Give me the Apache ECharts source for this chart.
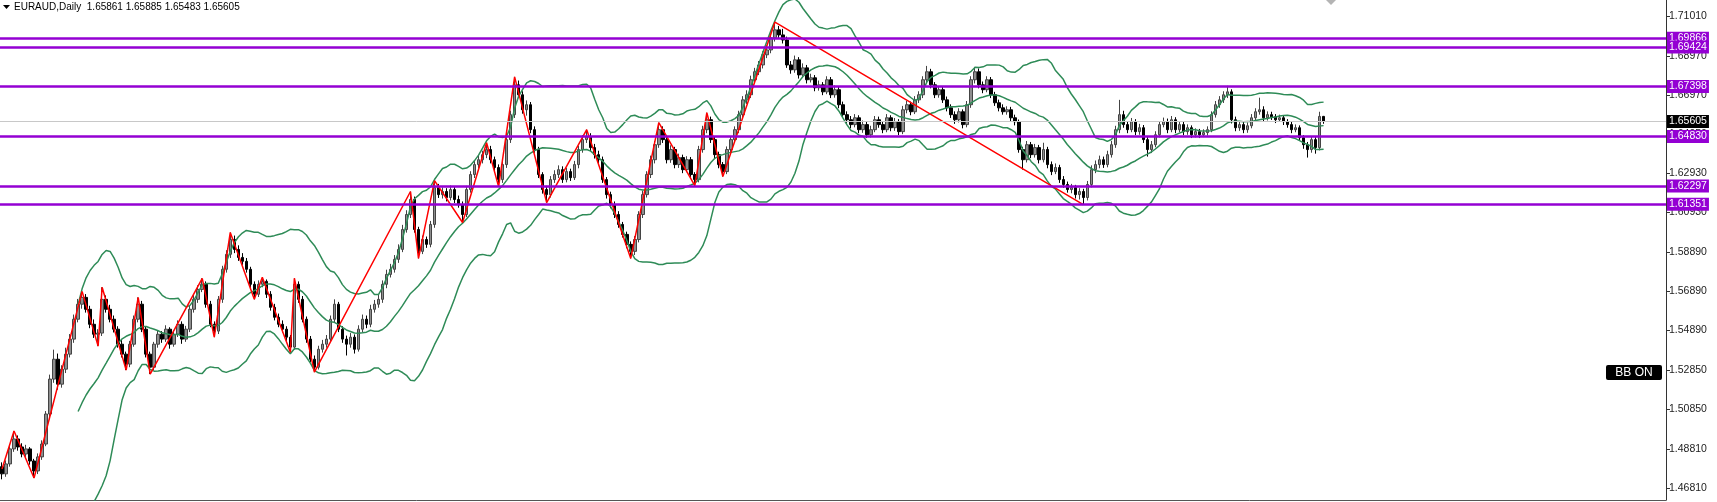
<!DOCTYPE html>
<html><head><meta charset="utf-8">
<script src="https://cdn.jsdelivr.net/npm/echarts@6/dist/echarts.min.js"></script>
<style>html,body{margin:0;padding:0;background:#fff}#c{width:1717px;height:502px}</style>
</head><body><div id="c"></div>
<script>
const opens=[
1.4790,1.4753,1.4804,1.4881,1.4932,1.4891,1.4855,1.4881,1.4819,1.4768,
1.4840,1.4906,1.5060,1.5239,1.5341,1.5213,1.5290,1.5367,1.5444,1.5546,
1.5623,1.5658,1.5597,1.5520,1.5469,1.5475,1.5648,1.5597,1.5546,1.5495,
1.5418,1.5367,1.5316,1.5418,1.5546,1.5623,1.5495,1.5367,1.5300,1.5418,
1.5469,1.5444,1.5495,1.5418,1.5469,1.5520,1.5444,1.5495,1.5597,1.5648,
1.5699,1.5725,1.5623,1.5520,1.5485,1.5648,1.5802,1.5879,1.5955,1.5904,
1.5863,1.5843,1.5802,1.5725,1.5674,1.5725,1.5740,1.5674,1.5607,1.5556,
1.5520,1.5495,1.5454,1.5403,1.5725,1.5648,1.5546,1.5444,1.5341,1.5300,
1.5392,1.5418,1.5444,1.5546,1.5623,1.5495,1.5444,1.5418,1.5454,1.5392,
1.5495,1.5546,1.5520,1.5597,1.5623,1.5648,1.5725,1.5776,1.5802,1.5853,
1.5904,1.6006,1.6083,1.6160,1.6006,1.5894,1.5955,1.5930,1.6032,1.6221,
1.6185,1.6201,1.6170,1.6211,1.6160,1.6134,1.6083,1.6211,1.6288,1.6339,
1.6364,1.6390,1.6416,1.6364,1.6324,1.6262,1.6339,1.6467,1.6595,1.6748,
1.6697,1.6620,1.6646,1.6518,1.6416,1.6288,1.6211,1.6185,1.6262,1.6288,
1.6313,1.6262,1.6303,1.6272,1.6339,1.6416,1.6467,1.6482,1.6426,1.6390,
1.6364,1.6262,1.6185,1.6134,1.6083,1.6032,1.5981,1.5930,1.5894,1.5955,
1.6083,1.6185,1.6288,1.6364,1.6441,1.6518,1.6467,1.6364,1.6416,1.6339,
1.6375,1.6313,1.6364,1.6288,1.6262,1.6416,1.6518,1.6569,1.6467,1.6390,
1.6339,1.6303,1.6416,1.6467,1.6518,1.6595,1.6671,1.6697,1.6774,1.6815,
1.6850,1.6902,1.6927,1.6989,1.7030,1.7004,1.6978,1.6850,1.6825,1.6876,
1.6799,1.6835,1.6774,1.6784,1.6733,1.6748,1.6712,1.6774,1.6697,1.6723,
1.6646,1.6595,1.6569,1.6544,1.6579,1.6518,1.6544,1.6492,1.6518,1.6569,
1.6544,1.6518,1.6579,1.6528,1.6559,1.6508,1.6620,1.6646,1.6610,1.6671,
1.6697,1.6774,1.6815,1.6748,1.6697,1.6723,1.6671,1.6630,1.6595,1.6569,
1.6610,1.6544,1.6646,1.6774,1.6815,1.6748,1.6723,1.6774,1.6697,1.6656,
1.6630,1.6610,1.6620,1.6579,1.6559,1.6416,1.6364,1.6441,1.6390,1.6426,
1.6364,1.6416,1.6339,1.6303,1.6324,1.6262,1.6237,1.6211,1.6221,1.6185,
1.6201,1.6170,1.6237,1.6313,1.6339,1.6364,1.6339,1.6390,1.6441,1.6518,
1.6595,1.6544,1.6518,1.6559,1.6508,1.6528,1.6467,1.6416,1.6441,1.6492,
1.6544,1.6559,1.6518,1.6569,1.6518,1.6544,1.6508,1.6528,1.6492,1.6508,
1.6492,1.6503,1.6518,1.6595,1.6646,1.6671,1.6697,1.6712,1.6569,1.6528,
1.6544,1.6518,1.6538,1.6579,1.6610,1.6620,1.6579,1.6595,1.6584,1.6569,
1.6579,1.6559,1.6544,1.6518,1.6528,1.6477,1.6441,1.6416,1.6467,1.6426,1.65861];
const highs=[
1.4812,1.4822,1.4895,1.4973,1.4950,1.4910,1.4902,1.4890,1.4830,1.4858,
1.4925,1.5075,1.5262,1.5390,1.5370,1.5310,1.5400,1.5470,1.5570,1.5650,
1.5689,1.5675,1.5615,1.5545,1.5495,1.5710,1.5668,1.5620,1.5565,1.5510,
1.5440,1.5380,1.5435,1.5565,1.5658,1.5640,1.5510,1.5380,1.5430,1.5490,
1.5485,1.5515,1.5505,1.5488,1.5540,1.5535,1.5512,1.5615,1.5670,1.5720,
1.5756,1.5740,1.5640,1.5535,1.5665,1.5820,1.5900,1.5991,1.5975,1.5925,
1.5885,1.5860,1.5815,1.5740,1.5745,1.5761,1.5750,1.5690,1.5625,1.5575,
1.5540,1.5510,1.5465,1.5756,1.5740,1.5665,1.5560,1.5460,1.5360,1.5410,
1.5440,1.5465,1.5565,1.5648,1.5635,1.5510,1.5462,1.5475,1.5468,1.5515,
1.5570,1.5565,1.5620,1.5645,1.5672,1.5745,1.5800,1.5830,1.5875,1.5930,
1.6030,1.6105,1.6201,1.6175,1.6020,1.5975,1.5970,1.6050,1.6257,1.6240,
1.6222,1.6218,1.6232,1.6226,1.6180,1.6150,1.6230,1.6305,1.6360,1.6385,
1.6410,1.6451,1.6435,1.6380,1.6340,1.6355,1.6485,1.6615,1.6789,1.6770,
1.6715,1.6668,1.6660,1.6535,1.6430,1.6300,1.6230,1.6280,1.6310,1.6335,
1.6330,1.6322,1.6318,1.6358,1.6435,1.6490,1.6518,1.6500,1.6445,1.6410,
1.6380,1.6275,1.6200,1.6150,1.6100,1.6045,1.5995,1.5945,1.5972,1.6100,
1.6205,1.6305,1.6385,1.6460,1.6554,1.6535,1.6482,1.6438,1.6430,1.6395,
1.6390,1.6382,1.6378,1.6300,1.6435,1.6538,1.6605,1.6585,1.6482,1.6405,
1.6352,1.6432,1.6485,1.6535,1.6615,1.6690,1.6720,1.6795,1.6835,1.6870,
1.6920,1.6950,1.7010,1.7070,1.7050,1.7035,1.6995,1.6870,1.6898,1.6890,
1.6858,1.6850,1.6805,1.6798,1.6770,1.6762,1.6792,1.6788,1.6745,1.6738,
1.6662,1.6612,1.6588,1.6598,1.6592,1.6565,1.6558,1.6538,1.6588,1.6585,
1.6560,1.6598,1.6592,1.6578,1.6572,1.6640,1.6665,1.6662,1.6690,1.6715,
1.6792,1.6845,1.6830,1.6762,1.6742,1.6738,1.6688,1.6648,1.6612,1.6628,
1.6622,1.6665,1.6792,1.6840,1.6832,1.6765,1.6792,1.6788,1.6712,1.6672,
1.6648,1.6638,1.6635,1.6595,1.6570,1.6430,1.6460,1.6455,1.6445,1.6440,
1.6451,1.6430,1.6355,1.6345,1.6338,1.6280,1.6252,1.6240,1.6235,1.6218,
1.6215,1.6255,1.6335,1.6360,1.6385,1.6380,1.6410,1.6460,1.6538,1.6671,
1.6615,1.6560,1.6578,1.6572,1.6548,1.6542,1.6480,1.6460,1.6510,1.6562,
1.6580,1.6575,1.6588,1.6582,1.6562,1.6558,1.6545,1.6540,1.6525,1.6522,
1.6520,1.6535,1.6612,1.6665,1.6690,1.6715,1.6743,1.6725,1.6585,1.6562,
1.6558,1.6555,1.6598,1.6628,1.6682,1.6638,1.6612,1.6610,1.6598,1.6595,
1.6592,1.6572,1.6558,1.6545,1.6540,1.6490,1.6455,1.6485,1.6480,1.6610,1.65885];
const lows=[
1.4725,1.4738,1.4790,1.4866,1.4872,1.4838,1.4840,1.4800,1.4732,1.4752,
1.4825,1.4895,1.5045,1.5220,1.5185,1.5195,1.5270,1.5350,1.5425,1.5530,
1.5600,1.5580,1.5500,1.5450,1.5408,1.5460,1.5580,1.5530,1.5478,1.5400,
1.5350,1.5285,1.5300,1.5405,1.5530,1.5480,1.5350,1.5265,1.5285,1.5400,
1.5425,1.5430,1.5395,1.5405,1.5455,1.5420,1.5430,1.5480,1.5580,1.5630,
1.5685,1.5605,1.5505,1.5454,1.5470,1.5630,1.5785,1.5860,1.5885,1.5845,
1.5825,1.5785,1.5705,1.5648,1.5660,1.5710,1.5655,1.5590,1.5540,1.5505,
1.5478,1.5435,1.5377,1.5390,1.5630,1.5530,1.5425,1.5325,1.5275,1.5288,
1.5375,1.5400,1.5430,1.5530,1.5480,1.5425,1.5360,1.5400,1.5370,1.5380,
1.5480,1.5500,1.5505,1.5580,1.5605,1.5630,1.5705,1.5760,1.5785,1.5835,
1.5890,1.5990,1.6065,1.5990,1.5858,1.5880,1.5912,1.5915,1.6015,1.6168,
1.6165,1.6150,1.6155,1.6142,1.6118,1.6042,1.6070,1.6195,1.6270,1.6320,
1.6345,1.6372,1.6345,1.6305,1.6226,1.6245,1.6322,1.6450,1.6578,1.6680,
1.6600,1.6590,1.6500,1.6400,1.6270,1.6190,1.6144,1.6170,1.6245,1.6270,
1.6245,1.6248,1.6255,1.6260,1.6320,1.6400,1.6450,1.6408,1.6370,1.6345,
1.6245,1.6165,1.6115,1.6065,1.6015,1.5965,1.5910,1.5858,1.5875,1.5940,
1.6065,1.6170,1.6270,1.6345,1.6425,1.6450,1.6345,1.6348,1.6320,1.6322,
1.6295,1.6300,1.6270,1.6231,1.6248,1.6400,1.6500,1.6450,1.6372,1.6320,
1.6278,1.6290,1.6400,1.6450,1.6500,1.6580,1.6650,1.6680,1.6755,1.6798,
1.6832,1.6885,1.6910,1.6970,1.6985,1.6960,1.6835,1.6805,1.6810,1.6780,
1.6785,1.6755,1.6760,1.6715,1.6718,1.6695,1.6700,1.6680,1.6682,1.6628,
1.6578,1.6550,1.6525,1.6530,1.6500,1.6502,1.6475,1.6478,1.6505,1.6528,
1.6500,1.6505,1.6510,1.6512,1.6490,1.6495,1.6602,1.6592,1.6598,1.6655,
1.6680,1.6760,1.6730,1.6680,1.6682,1.6655,1.6612,1.6578,1.6548,1.6555,
1.6525,1.6530,1.6630,1.6755,1.6730,1.6705,1.6710,1.6680,1.6640,1.6612,
1.6595,1.6595,1.6562,1.6540,1.6400,1.6313,1.6350,1.6372,1.6375,1.6345,
1.6350,1.6320,1.6285,1.6290,1.6245,1.6220,1.6195,1.6192,1.6165,1.6160,
1.6134,1.6155,1.6222,1.6295,1.6320,1.6322,1.6325,1.6375,1.6425,1.6500,
1.6528,1.6500,1.6505,1.6490,1.6492,1.6450,1.6380,1.6398,1.6428,1.6478,
1.6530,1.6500,1.6505,1.6500,1.6505,1.6490,1.6492,1.6475,1.6478,1.6475,
1.6480,1.6488,1.6505,1.6580,1.6630,1.6655,1.6680,1.6550,1.6510,1.6512,
1.6500,1.6502,1.6525,1.6565,1.6595,1.6562,1.6565,1.6568,1.6552,1.6558,
1.6542,1.6528,1.6500,1.6505,1.6460,1.6420,1.6375,1.6400,1.6395,1.6412,1.65483];
const closes=[
1.4753,1.4804,1.4881,1.4932,1.4891,1.4855,1.4881,1.4819,1.4768,1.4840,
1.4906,1.5060,1.5239,1.5341,1.5213,1.5290,1.5367,1.5444,1.5546,1.5623,
1.5658,1.5597,1.5520,1.5469,1.5475,1.5648,1.5597,1.5546,1.5495,1.5418,
1.5367,1.5316,1.5418,1.5546,1.5623,1.5495,1.5367,1.5300,1.5418,1.5469,
1.5444,1.5495,1.5418,1.5469,1.5520,1.5444,1.5495,1.5597,1.5648,1.5699,
1.5725,1.5623,1.5520,1.5485,1.5648,1.5802,1.5879,1.5955,1.5904,1.5863,
1.5843,1.5802,1.5725,1.5674,1.5725,1.5740,1.5674,1.5607,1.5556,1.5520,
1.5495,1.5454,1.5403,1.5725,1.5648,1.5546,1.5444,1.5341,1.5300,1.5392,
1.5418,1.5444,1.5546,1.5623,1.5495,1.5444,1.5418,1.5454,1.5392,1.5495,
1.5546,1.5520,1.5597,1.5623,1.5648,1.5725,1.5776,1.5802,1.5853,1.5904,
1.6006,1.6083,1.6160,1.6006,1.5894,1.5955,1.5930,1.6032,1.6221,1.6185,
1.6201,1.6170,1.6211,1.6160,1.6134,1.6083,1.6211,1.6288,1.6339,1.6364,
1.6390,1.6416,1.6364,1.6324,1.6262,1.6339,1.6467,1.6595,1.6748,1.6697,
1.6620,1.6646,1.6518,1.6416,1.6288,1.6211,1.6185,1.6262,1.6288,1.6313,
1.6262,1.6303,1.6272,1.6339,1.6416,1.6467,1.6482,1.6426,1.6390,1.6364,
1.6262,1.6185,1.6134,1.6083,1.6032,1.5981,1.5930,1.5894,1.5955,1.6083,
1.6185,1.6288,1.6364,1.6441,1.6518,1.6467,1.6364,1.6416,1.6339,1.6375,
1.6313,1.6364,1.6288,1.6262,1.6416,1.6518,1.6569,1.6467,1.6390,1.6339,
1.6303,1.6416,1.6467,1.6518,1.6595,1.6671,1.6697,1.6774,1.6815,1.6850,
1.6902,1.6927,1.6989,1.7030,1.7004,1.6978,1.6850,1.6825,1.6876,1.6799,
1.6835,1.6774,1.6784,1.6733,1.6748,1.6712,1.6774,1.6697,1.6723,1.6646,
1.6595,1.6569,1.6544,1.6579,1.6518,1.6544,1.6492,1.6518,1.6569,1.6544,
1.6518,1.6579,1.6528,1.6559,1.6508,1.6620,1.6646,1.6610,1.6671,1.6697,
1.6774,1.6815,1.6748,1.6697,1.6723,1.6671,1.6630,1.6595,1.6569,1.6610,
1.6544,1.6646,1.6774,1.6815,1.6748,1.6723,1.6774,1.6697,1.6656,1.6630,
1.6610,1.6620,1.6579,1.6559,1.6416,1.6364,1.6441,1.6390,1.6426,1.6364,
1.6416,1.6339,1.6303,1.6324,1.6262,1.6237,1.6211,1.6221,1.6185,1.6201,
1.6170,1.6237,1.6313,1.6339,1.6364,1.6339,1.6390,1.6441,1.6518,1.6595,
1.6544,1.6518,1.6559,1.6508,1.6528,1.6467,1.6416,1.6441,1.6492,1.6544,
1.6559,1.6518,1.6569,1.6518,1.6544,1.6508,1.6528,1.6492,1.6508,1.6492,
1.6503,1.6518,1.6595,1.6646,1.6671,1.6697,1.6712,1.6569,1.6528,1.6544,
1.6518,1.6538,1.6579,1.6610,1.6620,1.6579,1.6595,1.6584,1.6569,1.6579,
1.6559,1.6544,1.6518,1.6528,1.6477,1.6441,1.6416,1.6467,1.6426,1.6586,1.65605];

// ZigZag turning points (bar index, price)
const zzIdx=[0,3,8,20,24,25,31,34,37,50,53,57,63,65,72,73,78,102,104,108,115,121,124,128,136,146,157,164,173,176,180,193,270];
const zzVal=[1.4778,1.4973,1.4732,1.5689,1.5408,1.5710,1.5285,1.5658,1.5265,1.5756,1.5454,1.5991,1.5648,1.5761,1.5377,1.5756,1.5275,1.6201,1.5858,1.6257,1.6042,1.6451,1.6226,1.6789,1.6144,1.6518,1.5858,1.6554,1.6231,1.6605,1.6278,1.7070,1.6134];

const levels=[1.69866,1.69424,1.67398,1.64830,1.62297,1.61351];
const lastPrice=1.65605;
const yTicks=[1.46810,1.48810,1.50850,1.52850,1.54890,1.56890,1.58890,1.60930,1.62930,1.64950,1.66970,1.68970,1.71010];
const headerText='EURAUD,Daily  1.65861 1.65885 1.65483 1.65605';
const badgeText='BB ON';

const SLOTS=416;
const cats=Array.from({length:SLOTS},(_,i)=>String(i));
const candles=opens.map((o,i)=>[o,closes[i],lows[i],highs[i]]);

// Bollinger Bands (20, 2) from the closes
const P=20,D=2;
const bbMid=[],bbUp=[],bbLo=[];
for(let i=0;i<closes.length;i++){
  if(i<P-1){bbMid.push('-');bbUp.push('-');bbLo.push('-');continue;}
  let s=0;for(let k=i-P+1;k<=i;k++)s+=closes[k];
  const m=s/P;let v=0;for(let k=i-P+1;k<=i;k++)v+=(closes[k]-m)*(closes[k]-m);
  const sd=Math.sqrt(v/P);
  bbMid.push(m);bbUp.push(m+D*sd);bbLo.push(m-D*sd);
}

const FONT='Liberation Sans';
const bandStyle={color:'#2E8B57',width:1.5};
function bandSeries(d){return {type:'line',data:d,symbol:'none',lineStyle:bandStyle,z:3,silent:true,animation:false};}

const lvlLabel=(bg)=>({show:true,position:'end',distance:1,formatter:p=>Number(p.value).toFixed(5),color:'#fff',backgroundColor:bg,fontSize:10.5,fontFamily:FONT,padding:[1,2,0,2],lineHeight:12});

const chart=echarts.init(document.getElementById('c'),null,{renderer:'canvas'});
chart.setOption({
  animation:false,
  backgroundColor:'#fff',
  grid:{left:0,right:51,top:0,bottom:2},
  xAxis:{type:'category',data:cats,boundaryGap:true,
    axisLine:{show:true,lineStyle:{color:'#555',width:1}},axisTick:{show:false},axisLabel:{show:false},splitLine:{show:false}},
  yAxis:{type:'value',position:'right',min:1.4619,max:1.7183,scale:true,splitLine:{show:false},
    axisLine:{show:true,lineStyle:{color:'#333',width:1}},
    axisTick:{show:true,length:4,customValues:yTicks,lineStyle:{color:'#333'}},
    axisLabel:{customValues:yTicks,formatter:v=>v.toFixed(5),color:'#222',fontSize:10.5,fontFamily:FONT,margin:3}},
  series:[
    {type:'candlestick',data:candles,barWidth:3,z:2,
      itemStyle:{color:'#8e8e8e',color0:'#000',borderColor:'#444',borderColor0:'#000',borderWidth:1},
      markLine:{symbol:'none',silent:true,animation:false,precision:5,
        data:levels.map(v=>({yAxis:v,lineStyle:{color:'#9400D3',width:2.5,type:'solid'},label:lvlLabel('#9400D3')}))
          .concat([{yAxis:lastPrice,lineStyle:{color:'#c8c8c8',width:1,type:'solid'},label:lvlLabel('#000')}])}},
    bandSeries(bbUp),bandSeries(bbMid),bandSeries(bbLo),
    {type:'line',data:zzIdx.map((x,i)=>[x,zzVal[i]]),symbol:'none',lineStyle:{color:'#ff0000',width:1.5},z:4,silent:true}
  ],
  graphic:[
    {type:'polygon',shape:{points:[[3,5],[10,5],[6.5,9]]},style:{fill:'#000'}},
    {type:'text',x:14,y:7,style:{text:headerText,fill:'#000',font:'10px "Liberation Sans"',textVerticalAlign:'middle'}},
    {type:'polygon',shape:{points:[[1326,0],[1336,0],[1331,5]]},style:{fill:'#b4b4b4'}},
    {type:'rect',shape:{x:1606,y:365,width:56,height:15,r:2},style:{fill:'#000'}},
    {type:'text',x:1634,y:373,style:{text:badgeText,fill:'#fff',font:'12px "Liberation Sans"',textAlign:'center',textVerticalAlign:'middle'}}
  ]
});
</script></body></html>
